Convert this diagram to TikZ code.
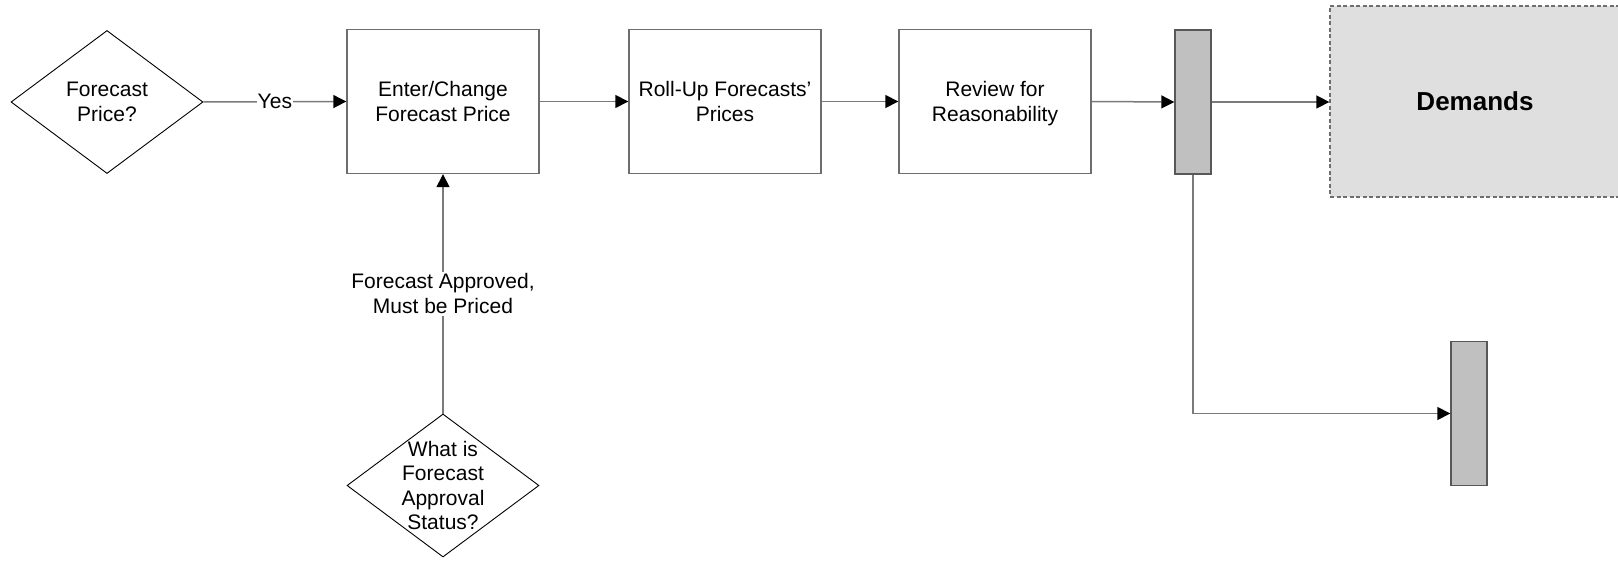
\documentclass[tikz,border=0pt]{standalone}
\usepackage{fontspec}
\setmainfont{Liberation Sans}
\usetikzlibrary{shapes.geometric,arrows.meta}
\definecolor{linegray}{HTML}{7A7A7A}
\definecolor{boxgray}{HTML}{6E6E6E}
\definecolor{barfill}{HTML}{C0C0C0}
\definecolor{demfill}{HTML}{DFDFDF}
\begin{document}
\begin{tikzpicture}[x=1pt,y=-1pt,
  every node/.style={font=\fontsize{21}{25}\selectfont},
  procbox/.style={draw=boxgray,line width=1.4pt,minimum width=192pt,minimum height=144pt,inner sep=0pt,align=center,text depth=0pt},
  decision/.style={draw=black,line width=0.9pt,shape=diamond,minimum width=192pt,minimum height=143pt,inner sep=0pt},
  dectext/.style={align=center,font=\fontsize{21}{24.6}\selectfont},
  barbox/.style={draw=boxgray!80!black,fill=barfill,line width=1.4pt,minimum width=36pt,minimum height=144pt,inner sep=0pt},
  demandbox/.style={draw=boxgray,fill=demfill,line width=1.3pt,dash pattern=on 4pt off 2.5pt,minimum width=290pt,minimum height=191pt,inner sep=0pt,font=\fontsize{26}{30}\selectfont\bfseries},
  conn/.style={draw=linegray,line width=1.5pt,-{Triangle[length=13pt,width=13pt,color=black]}},
  clabel/.style={fill=white,inner sep=0.8pt,align=center}
]
\useasboundingbox (0,0) rectangle (1618,564);
\clip (0,0) rectangle (1618,564);
\node[decision,label={[dectext]center:{Forecast\\Price?}}] (d1) at (107,102) {};
\node[procbox] (b1) at (443,101.5) {Enter/Change\\Forecast Price};
\node[procbox] (b2) at (725,101.5) {Roll-Up Forecasts’\\Prices};
\node[procbox] (b3) at (995,101.5) {Review for\\Reasonability};
\node[barbox] (bar1) at (1193,102) {};
\node[demandbox] (dem) at (1475,101.5) {Demands};
\node[barbox] (bar2) at (1469,413.5) {};
\node[decision,label={[dectext]center:{What is\\Forecast\\Approval\\Status?}}] (d2) at (443,485.5) {};

\draw[conn] (d1.east) -- node[clabel]{Yes} (b1.west);
\draw[conn] (b1.east) -- (b2.west);
\draw[conn] (b2.east) -- (b3.west);
\draw[conn] (b3.east) -- (bar1.west);
\draw[conn] (bar1.east) -- (bar1.east -| dem.west);
\draw[conn] (bar1.south) -- (bar1.south |- bar2.west) -- (bar2.west);
\draw[conn] (d2.north) -- node[clabel,inner sep=1.5pt]{Forecast Approved,\\Must be Priced} (b1.south);
\end{tikzpicture}
\end{document}
